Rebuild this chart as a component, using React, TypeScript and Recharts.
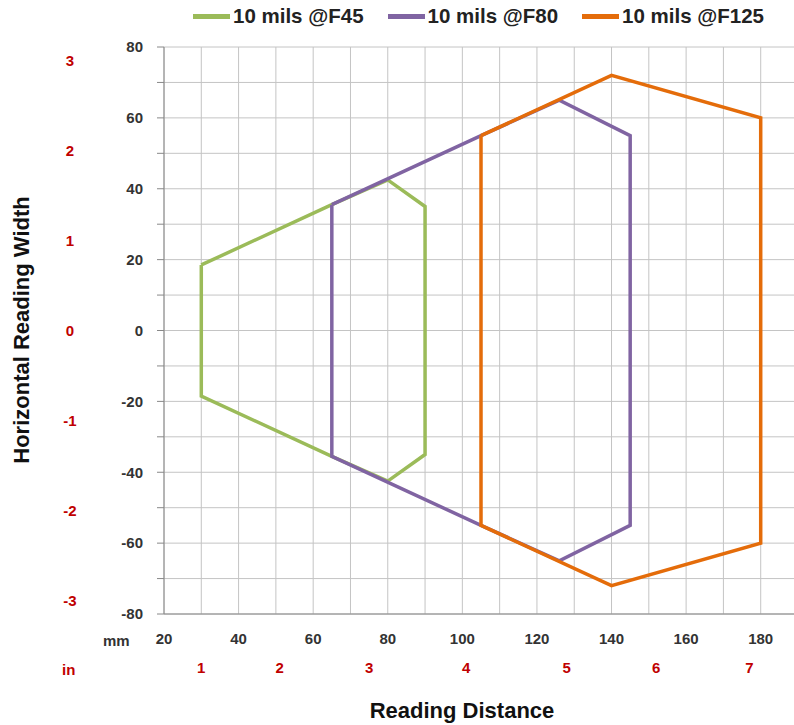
import { LineChart, Line, XAxis, YAxis, CartesianGrid } from 'recharts'

// reading distance (mm) / horizontal reading width (mm) outline of each field
const f45Distance = [30, 65, 80, 90, 90, 80, 65, 30, 30]
const f45Width = [18.5, 35.5, 42.5, 35, -35, -42.5, -35.5, -18.5, 18.5]

const f80Distance = [65, 105, 126, 145, 145, 126, 105, 65, 65]
const f80Width = [35.5, 55, 65, 55, -55, -65, -55, -35.5, 35.5]

const f125Distance = [105, 140, 180, 180, 140, 105, 105]
const f125Width = [55, 72, 60, -60, -72, -55, 55]

const seriesNames = ['10 mils @F45', '10 mils @F80', '10 mils @F125']

const distanceTicks = [20, 30, 40, 50, 60, 70, 80, 90, 100, 110, 120, 130, 140, 150, 160, 170, 180, 190]
const widthTicks = [-80, -70, -60, -50, -40, -30, -20, -10, 0, 10, 20, 30, 40, 50, 60, 70, 80]

// inch labels, placed at their mm position
const inchXPositions = [30, 51, 75, 101, 128, 152, 177]
const inchXLabels = ['1', '2', '3', '4', '5', '6', '7']
const inchYPositions = [-76.2, -50.8, -25.4, 0, 25.4, 50.8, 76.2]
const inchYLabels = ['-3', '-2', '-1', '0', '1', '2', '3']

const colors = ['#9BBB59', '#8064A2', '#E46C0A']
const red = '#C00000'

const toPoints = (d: number[], w: number[]) => d.map((x, i) => ({ d: x, w: w[i] }))

const series = [
  toPoints(f45Distance, f45Width),
  toPoints(f80Distance, f80Width),
  toPoints(f125Distance, f125Width),
]

const tickStyle = { fill: '#333', fontSize: 15, fontWeight: 700 }
const redTick = { fill: red, fontSize: 15, fontWeight: 700 }

const App = () => {
  return (
    <div
      style={{
        position: 'fixed',
        top: 0,
        left: 0,
        width: 794,
        height: 725,
        overflow: 'hidden',
        background: '#fff',
        fontFamily: '"Liberation Sans", Arial, sans-serif',
      }}
    >
      <LineChart
        width={800}
        height={725}
        margin={{ top: 47, right: 2, left: 0, bottom: 31 }}
      >
        <CartesianGrid stroke="#C4C4C4" strokeWidth={1} />
        <XAxis
          dataKey="d"
          type="number"
          domain={[20, 190]}
          ticks={distanceTicks}
          interval={0}
          allowDataOverflow
          height={40}
          stroke="#888"
          tickLine={false}
          tickSize={0}
          tickMargin={19}
          tick={tickStyle}
          tickFormatter={(v: number) => (v % 20 === 0 ? String(v) : '')}
        />
        <XAxis
          xAxisId="in"
          dataKey="d"
          type="number"
          domain={[20, 190]}
          ticks={inchXPositions}
          interval={0}
          allowDataOverflow
          height={40}
          axisLine={false}
          tickLine={false}
          tickSize={0}
          tickMargin={8}
          tick={redTick}
          tickFormatter={(v: number) => inchXLabels[inchXPositions.indexOf(v)] ?? ''}
        />
        <YAxis
          type="number"
          domain={[-80, 80]}
          ticks={widthTicks}
          interval={0}
          allowDataOverflow
          width={70}
          stroke="#888"
          tickSize={7}
          tickMargin={14}
          tick={tickStyle}
          tickFormatter={(v: number) => (v % 20 === 0 ? String(v) : '')}
        />
        <YAxis
          yAxisId="in"
          type="number"
          domain={[-80, 80]}
          ticks={inchYPositions}
          interval={0}
          allowDataOverflow
          width={94}
          axisLine={false}
          tickLine={false}
          tickSize={0}
          tickMargin={24}
          tick={{ ...redTick, textAnchor: 'middle' }}
          tickFormatter={(v: number) => inchYLabels[inchYPositions.indexOf(v)] ?? ''}
        />
        {/* invisible copy so the inch axis has a series bound to it */}
        <Line
          xAxisId="in"
          data={series[2]}
          dataKey="w"
          stroke="none"
          dot={false}
          activeDot={false}
          legendType="none"
          isAnimationActive={false}
        />
        {series.map((pts, i) => (
          <Line
            key={seriesNames[i]}
            data={pts}
            dataKey="w"
            name={seriesNames[i]}
            stroke={colors[i]}
            strokeWidth={3.5}
            dot={false}
            activeDot={false}
            isAnimationActive={false}
          />
        ))}
      </LineChart>

      {/* legend */}
      <div
        style={{
          position: 'absolute',
          top: 4,
          left: 193,
          display: 'flex',
          alignItems: 'center',
          gap: 24,
          fontSize: 20.5,
          fontWeight: 700,
          color: '#222',
          whiteSpace: 'nowrap',
        }}
      >
        {seriesNames.map((name, i) => (
          <div key={name} style={{ display: 'flex', alignItems: 'center', gap: 3 }}>
            <span style={{ width: 37, height: 5, background: colors[i], display: 'inline-block' }} />
            <span>{name}</span>
          </div>
        ))}
      </div>

      {/* unit labels */}
      <div style={{ position: 'absolute', left: 103, top: 632, fontSize: 15, fontWeight: 700, color: '#333' }}>
        mm
      </div>
      <div style={{ position: 'absolute', left: 62, top: 661, fontSize: 15, fontWeight: 700, color: red }}>
        in
      </div>

      {/* axis titles */}
      <div
        style={{
          position: 'absolute',
          left: 462,
          top: 711,
          transform: 'translate(-50%, -50%)',
          fontSize: 22,
          fontWeight: 700,
          color: '#111',
          whiteSpace: 'nowrap',
        }}
      >
        Reading Distance
      </div>
      <div
        style={{
          position: 'absolute',
          left: 22,
          top: 330,
          transform: 'translate(-50%, -50%) rotate(-90deg)',
          fontSize: 22,
          fontWeight: 700,
          color: '#111',
          whiteSpace: 'nowrap',
        }}
      >
        Horizontal Reading Width
      </div>
    </div>
  )
}

export default App
